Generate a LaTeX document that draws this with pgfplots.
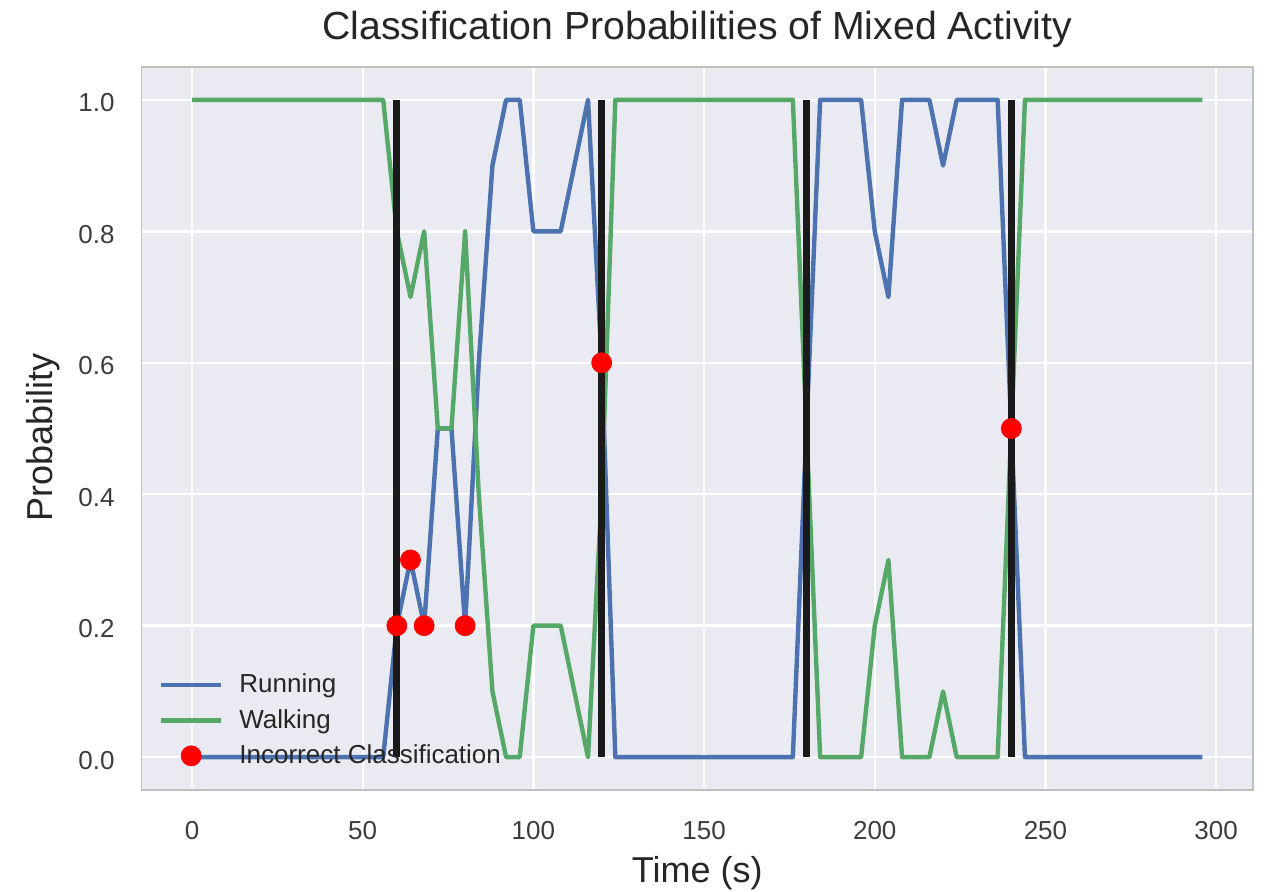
\documentclass[border=0pt]{standalone}
\usepackage{pgfplots}
\pgfplotsset{compat=1.18}
\usepackage{pgfplotstable}
\usepackage{fontspec}
\setmainfont{Liberation Sans}
\definecolor{bg}{HTML}{EAEAF2}
\definecolor{sblue}{HTML}{4C72B0}
\definecolor{sgreen}{HTML}{55A868}
\definecolor{txt}{HTML}{262626}
\definecolor{vline}{HTML}{1A1A1A}

\pgfplotstableread{
t run walk
0 0 1
4 0 1
8 0 1
12 0 1
16 0 1
20 0 1
24 0 1
28 0 1
32 0 1
36 0 1
40 0 1
44 0 1
48 0 1
52 0 1
56 0 1
60 0.2 0.8
64 0.3 0.7
68 0.2 0.8
72 0.5 0.5
76 0.5 0.5
80 0.2 0.8
84 0.6 0.4
88 0.9 0.1
92 1 0
96 1 0
100 0.8 0.2
104 0.8 0.2
108 0.8 0.2
112 0.9 0.1
116 1 0
120 0.6 0.4
124 0 1
128 0 1
132 0 1
136 0 1
140 0 1
144 0 1
148 0 1
152 0 1
156 0 1
160 0 1
164 0 1
168 0 1
172 0 1
176 0 1
180 0.5 0.5
184 1 0
188 1 0
192 1 0
196 1 0
200 0.8 0.2
204 0.7 0.3
208 1 0
212 1 0
216 1 0
220 0.9 0.1
224 1 0
228 1 0
232 1 0
236 1 0
240 0.5 0.5
244 0 1
248 0 1
252 0 1
256 0 1
260 0 1
264 0 1
268 0 1
272 0 1
276 0 1
280 0 1
284 0 1
288 0 1
292 0 1
296 0 1
}\probs

\pgfplotstableread{
t p
60 0.2
64 0.3
68 0.2
80 0.2
120 0.6
240 0.5
}\wrong

\begin{document}
\begin{tikzpicture}
\path[use as bounding box] (-70.75pt,-51pt) rectangle (566.25pt,395pt);
\begin{axis}[
  at={(0,0)}, anchor=south west,
  scale only axis,
  width=555.75pt, height=361.5pt,
  xmin=-14.8, xmax=310.8,
  ymin=-0.05, ymax=1.05,
  xtick={0,50,...,300},
  ytick={0,0.2,0.4,0.6,0.8,1.0},
  yticklabel style={/pgf/number format/fixed, /pgf/number format/fixed zerofill, /pgf/number format/precision=1},
  /pgf/number format/assume math mode=true,
  major tick length=0pt,
  axis background/.style={fill=bg},
  axis line style={draw=black!25, line width=0.6pt},
  grid=major,
  major grid style={white, line width=1.2pt},
  tick label style={font=\fontsize{13}{15}\selectfont, text=txt!90},
  xticklabel style={anchor=base, yshift=-25pt},
  yticklabel style={anchor=east, inner sep=0pt, xshift=-13.25pt, yshift=-1.5pt},
  title={Classification Probabilities of Mixed Activity},
  title style={at={(axis description cs:0.5,1)}, anchor=base, yshift=7.5pt, font=\fontsize{19.6}{23}\selectfont, text=txt},
  xlabel={Time (s)},
  xlabel style={at={(axis description cs:0.5,0)}, anchor=base, yshift=-46.5pt, font=\fontsize{18}{21}\selectfont, text=txt},
  ylabel={Probability},
  ylabel style={at={(axis description cs:-0.0805,0.487)}, anchor=base, font=\fontsize{18}{21}\selectfont, text=txt},
  legend style={at={(axis description cs:0.01,0.172)}, anchor=north west, draw=none, fill=none,
    font=\fontsize{13}{15}\selectfont, text=txt, row sep=2.8pt, column sep=6pt},
  legend cell align=left,
  legend image code/.code={\draw[mark repeat=2,mark phase=2,#1] plot coordinates {(0pt,0pt) (15pt,0pt) (30pt,0pt)};},
]
\addplot[sblue, line width=2.2pt, line join=round, no markers] table[x=t, y=run] {\probs};
\addlegendentry{Running}
\addplot[sgreen, line width=2.2pt, line join=round, no markers] table[x=t, y=walk] {\probs};
\addlegendentry{Walking}
\addplot[only marks, mark=*, mark size=5pt, red, mark options={draw=red, fill=red}] table[x=t, y=p] {\wrong};
\addlegendentry{Incorrect Classification}
\addplot[vline, line width=3.5pt, forget plot] coordinates {(60,0) (60,1)};
\addplot[vline, line width=3.5pt, forget plot] coordinates {(120,0) (120,1)};
\addplot[vline, line width=3.5pt, forget plot] coordinates {(180,0) (180,1)};
\addplot[vline, line width=3.5pt, forget plot] coordinates {(240,0) (240,1)};
\end{axis}
\end{tikzpicture}
\end{document}
